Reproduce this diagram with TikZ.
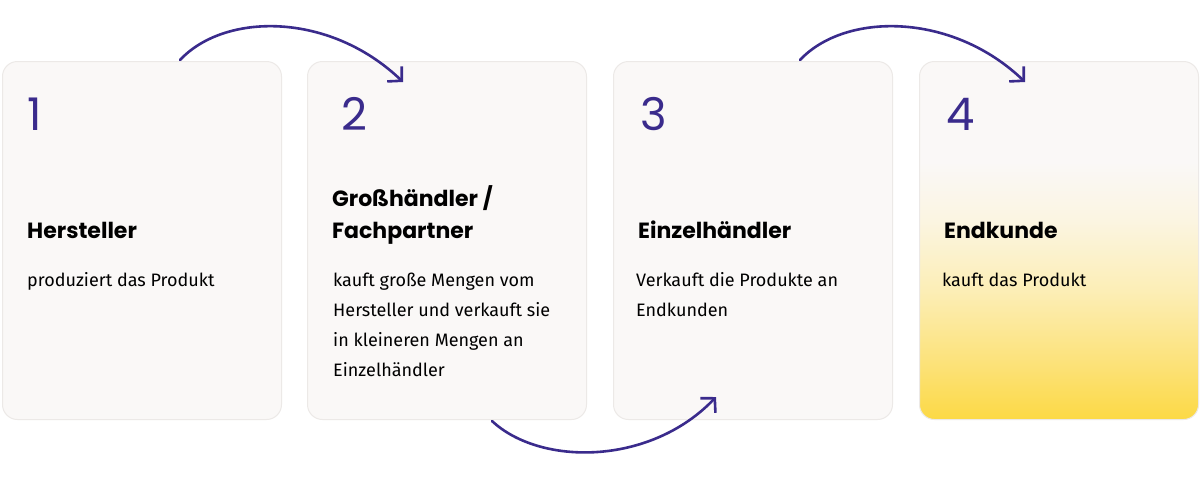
\documentclass[tikz,border=0pt]{standalone}
\usepackage{fontspec}
\setmainfont{Fira Sans}
\newfontfamily\headfont{Poppins}
\usetikzlibrary{arrows.meta}
\definecolor{cardc}{HTML}{FAF8F7}
\definecolor{cardb}{HTML}{ECE9E7}
\definecolor{purp}{HTML}{3A2B8C}
\definecolor{ylwa}{HTML}{FCD945}
\definecolor{ylwb}{HTML}{FCE27A}
\definecolor{ylwc}{HTML}{FCEEB6}
\definecolor{ylwd}{HTML}{FBF5E2}
\pgfdeclareverticalshading{cardfour}{100bp}{color(0bp)=(ylwa); color(25bp)=(ylwa); color(33bp)=(ylwb); color(43bp)=(ylwc); color(53bp)=(ylwd); color(61bp)=(cardc); color(100bp)=(cardc)}
\newcommand{\linesof}[1]{\vtop{#1}}
\begin{document}
\begin{tikzpicture}[x=1pt,y=-1pt,
  card/.style={draw=cardb, line width=1pt, fill=cardc, rounded corners=15pt,
    minimum width=279pt, minimum height=358pt, anchor=north west, inner sep=0pt},
  num/.style={anchor=base west, inner sep=0pt, text=purp, font=\headfont\fontsize{45}{45}\selectfont},
  ttl/.style={anchor=base west, inner sep=0pt, font=\headfont\bfseries\fontsize{22}{32}\selectfont},
  body/.style={anchor=base west, inner sep=0pt, font=\fontsize{18}{30}\selectfont},
  flow/.style={draw=purp, line width=2.6pt, line cap=round, line join=round,
    -{Straight Barb[length=10pt,width=21pt]}}]
\useasboundingbox (0,0) rectangle (1200,480);
\fill[white] (0,0) rectangle (1200,480);
% cards
\node[card] (c1) at (2,61) {};
\node[card] (c2) at (307,61) {};
\node[card] (c3) at (613,61) {};
\node[card, shade, shading=cardfour] (c4) at (919,61) {};
% numbers
\node[num] (n1) at (27,130) {1};
\node[num] (n2) at (341,130) {2};
\node[num] (n3) at (640,130) {3};
\node[num] (n4) at (946,130) {4};
% titles
\node[ttl] (t1) at (27,238) {Hersteller};
\node[ttl] (t2) at (332,206) {\linesof{\hbox{Großhändler /}\hbox{Fachpartner}}};
\node[ttl] (t3) at (638,238) {Einzelhändler};
\node[ttl] (t4) at (944,238) {Endkunde};
% bodies
\node[body] (b1) at (27,286) {produziert das Produkt};
\node[body] (b2) at (333,286) {\linesof{\hbox{kauft große Mengen vom}\hbox{Hersteller und verkauft sie}\hbox{in kleineren Mengen an}\hbox{Einzelhändler}}};
\node[body] (b3) at (636,286) {\linesof{\hbox{Verkauft die Produkte an}\hbox{Endkunden}}};
\node[body] (b4) at (942,286) {kauft das Produkt};
% arrows
\coordinate (s1) at (180,60);
\coordinate (e1) at (403,82);
\coordinate (s2) at (492,421);
\coordinate (e2) at (716,397);
\coordinate (s3) at (800,60);
\coordinate (e3) at (1025,82);
\draw[flow] (s1) .. controls (225,12) and (330,12) .. (e1);
\draw[flow] (s2) .. controls (540,466) and (650,466) .. (e2);
\draw[flow] (s3) .. controls (845,12) and (952,12) .. (e3);
\end{tikzpicture}
\end{document}
